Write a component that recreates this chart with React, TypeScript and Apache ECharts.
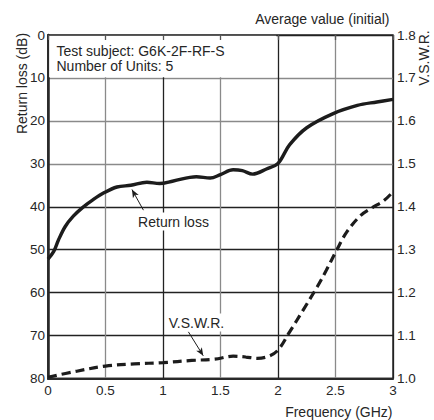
import React, { useEffect, useRef } from "react";
import * as echarts from "echarts";

// Return loss (dB) vs frequency (GHz)
const returnLoss: [number, number][] = [
  [0, 52.2], [0.05, 50.4], [0.09, 47.8], [0.15, 44.6], [0.22, 42.2], [0.3, 40.2],
  [0.39, 38.4], [0.49, 36.7], [0.6, 35.4], [0.72, 35.0], [0.86, 34.3], [0.97, 34.6],
  [1.09, 34.0], [1.29, 33.0], [1.41, 33.3], [1.5, 32.5], [1.61, 31.4], [1.69, 31.6],
  [1.78, 32.4], [1.9, 31.2], [2.0, 29.9], [2.1, 25.6], [2.25, 21.6], [2.48, 18.3],
  [2.69, 16.4], [2.86, 15.6], [3.0, 15.0],
];

// V.S.W.R. vs frequency (GHz)
const vswr: [number, number][] = [
  [0, 1.003], [0.25, 1.017], [0.5, 1.029], [0.75, 1.034], [1.0, 1.037], [1.25, 1.042],
  [1.45, 1.045], [1.61, 1.052], [1.72, 1.05], [1.82, 1.047], [1.92, 1.052], [2.0, 1.066],
  [2.1, 1.108], [2.22, 1.16], [2.34, 1.213], [2.42, 1.252], [2.51, 1.299], [2.6, 1.342],
  [2.72, 1.38], [2.82, 1.398], [2.92, 1.414], [3.0, 1.435],
];

const freqTicks = [0, 0.5, 1, 1.5, 2, 2.5, 3];
const dbTicks = [0, 10, 20, 30, 40, 50, 60, 70, 80];
const vswrTicks = [1.0, 1.1, 1.2, 1.3, 1.4, 1.5, 1.6, 1.7, 1.8];

const FONT = "'Liberation Sans', Arial, Helvetica, sans-serif";
const TXT = "#262626";

export default function App() {
  const ref = useRef<HTMLDivElement>(null);
  useEffect(() => {
    if (!ref.current) return;
    const chart = echarts.init(ref.current, undefined, { renderer: "svg" });
    chart.setOption({
      animation: false,
      backgroundColor: "#fff",
      textStyle: { fontFamily: FONT },
      grid: {
        left: 48, right: 41, top: 35, bottom: 41.5,
        show: true, borderColor: "#2a2a2a", borderWidth: 1.5, backgroundColor: "transparent",
      },
      xAxis: [
        {
          type: "value", min: freqTicks[0], max: freqTicks[freqTicks.length - 1], interval: 0.5,
          axisLine: { show: true, onZero: false, lineStyle: { color: "#2a2a2a", width: 2 } },
          axisTick: { show: false },
          axisLabel: { color: TXT, fontSize: 13.5, margin: 5, fontFamily: FONT },
          splitLine: { show: true, lineStyle: { color: ["#222", "#8a8a8a"], width: 1.3 } },
        },
        {
          type: "value", position: "top", min: 0, max: 3, interval: 0.5, z: 10,
          axisLine: { show: false },
          axisTick: { show: true, inside: true, length: 5, lineStyle: { color: "#555", width: 1.3 } },
          axisLabel: { show: false },
          splitLine: { show: false },
        },
      ],
      yAxis: [
        {
          type: "value", inverse: true, min: dbTicks[0], max: dbTicks[dbTicks.length - 1], interval: 10,
          axisLine: { show: true, onZero: false, lineStyle: { color: "#2a2a2a", width: 2.5 } },
          axisTick: { show: false },
          axisLabel: { color: TXT, fontSize: 13.5, margin: 3, fontFamily: FONT },
          splitLine: {
            show: true,
            lineStyle: {
              color: ["#222", "#8a8a8a", "#8a8a8a", "#8a8a8a", "#222", "#222", "#222", "#222", "#222"],
              width: 1.3,
            },
          },
        },
        {
          type: "value", position: "right", min: vswrTicks[0], max: vswrTicks[vswrTicks.length - 1], interval: 0.1,
          axisLine: { show: true, lineStyle: { color: "#2a2a2a", width: 1.5 } },
          axisTick: { show: false },
          axisLabel: {
            color: TXT, fontSize: 13.5, margin: 4, fontFamily: FONT,
            formatter: (v: number) => v.toFixed(1),
          },
          splitLine: { show: false },
        },
      ],
      series: [
        {
          name: "Return loss",
          type: "line",
          xAxisIndex: 0,
          yAxisIndex: 0,
          data: returnLoss,
          smooth: 0.35,
          showSymbol: false,
          symbol: "none",
          lineStyle: { color: "#1c1c1c", width: 3.4 },
          markArea: {
            silent: true,
            itemStyle: { color: "#fff" },
            data: [[{ coord: [0.01, 0.2] }, { coord: [1.985, 9.85] }]],
          },
          markLine: {
            silent: true,
            symbol: ["none", "arrow"],
            symbolSize: [5, 8],
            label: { show: false },
            lineStyle: { color: "#1c1c1c", width: 1, type: "solid" },
            data: [[{ coord: [0.83, 40.8] }, { coord: [0.73, 36.0] }]],
          },
          z: 3,
        },
        {
          name: "V.S.W.R.",
          type: "line",
          xAxisIndex: 0,
          yAxisIndex: 1,
          data: vswr,
          smooth: 0.35,
          showSymbol: false,
          symbol: "none",
          lineStyle: { color: "#1c1c1c", width: 3.2, type: [9, 5] },
          markLine: {
            silent: true,
            symbol: ["none", "arrow"],
            symbolSize: [5, 8],
            label: { show: false },
            lineStyle: { color: "#1c1c1c", width: 1, type: "solid" },
            data: [[{ coord: [1.22, 1.109] }, { coord: [1.35, 1.053] }]],
          },
          z: 3,
        },
      ],
      graphic: [
        {
          type: "text", x: 389.5, y: 19,
          style: { text: "Average value (initial)", fill: TXT, font: `14px ${FONT}`, align: "right", verticalAlign: "middle" },
        },
        {
          type: "text", x: 56.5, y: 51,
          style: { text: "Test subject: G6K-2F-RF-S", fill: TXT, font: `14px ${FONT}`, align: "left", verticalAlign: "middle" },
          z: 20,
        },
        {
          type: "text", x: 56.5, y: 65.5,
          style: { text: "Number of Units: 5", fill: TXT, font: `14px ${FONT}`, align: "left", verticalAlign: "middle" },
          z: 20,
        },
        {
          type: "text", x: 392.5, y: 411.5,
          style: { text: "Frequency (GHz)", fill: TXT, font: `14px ${FONT}`, align: "right", verticalAlign: "middle" },
        },
        {
          type: "text", x: 21.5, y: 83.5, rotation: Math.PI / 2,
          style: { text: "Return loss (dB)", fill: TXT, font: `14px ${FONT}`, align: "center", verticalAlign: "middle" },
        },
        {
          type: "text", x: 424, y: 58, rotation: Math.PI / 2,
          style: { text: "V.S.W.R.", fill: TXT, font: `14px ${FONT}`, align: "center", verticalAlign: "middle" },
        },
        {
          type: "text", x: 173.5, y: 221.5, z: 20,
          style: {
            text: "Return loss", fill: TXT, font: `14px ${FONT}`, align: "center", verticalAlign: "middle",
            backgroundColor: "#fff", padding: [2, 1],
          },
        },
        {
          type: "text", x: 196.5, y: 322.5, z: 20,
          style: {
            text: "V.S.W.R.", fill: TXT, font: `14px ${FONT}`, align: "center", verticalAlign: "middle",
            backgroundColor: "#fff", padding: [2, 1],
          },
        },
      ],
    });
    return () => chart.dispose();
  }, []);
  return (
    <div
      ref={ref}
      style={{ position: "fixed", left: 0, top: 0, width: 434, height: 420, background: "#fff" }}
    />
  );
}
